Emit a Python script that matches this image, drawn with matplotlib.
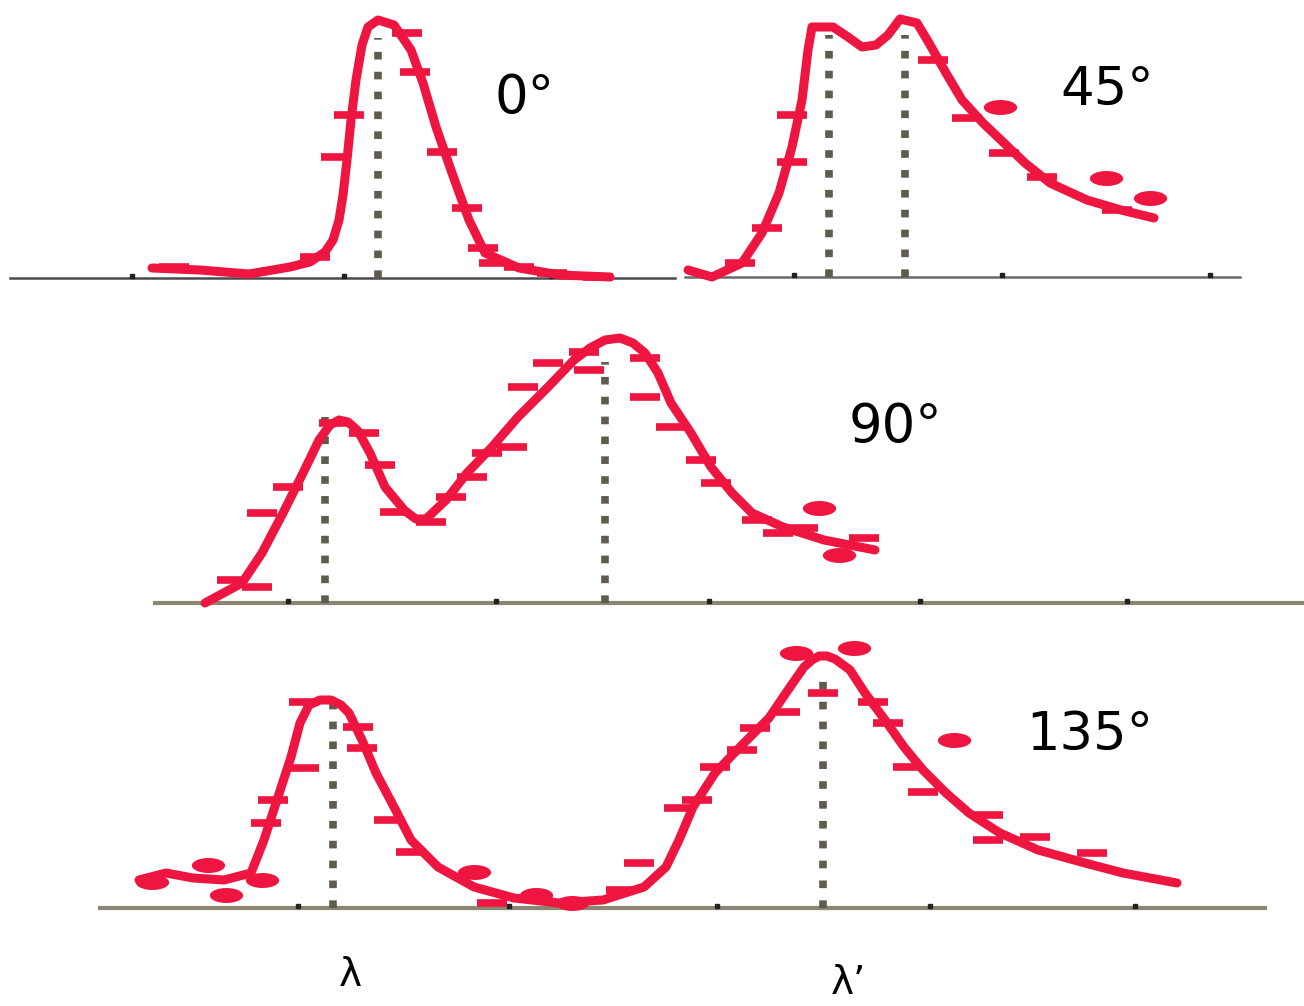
import numpy as np
import matplotlib.pyplot as plt
from matplotlib.path import Path

# Kompton: spectra at four scattering angles (heights are px above each panel baseline)
angles = ['0°', '45°', '90°', '135°']

x0 = [152, 200, 249, 290, 310, 325, 333, 339, 343, 347, 351, 356, 362, 368, 378, 394, 411, 423,
      436, 452, 469, 485, 519, 560, 610]
h0 = [10, 8, 4, 11, 16, 26, 38, 58, 83, 118, 158, 198, 233, 251, 258, 253, 228, 195, 151, 105,
      58, 25, 10, 3, 1]
dx0 = [349, 336, 407, 415, 442, 467, 483, 494, 519, 552, 598, 315, 174]
dh0 = [163, 121, 245, 206, 126, 70, 30, 15, 11, 5, 1, 21, 11]
bx0, bh0 = [], []

x45 = [688, 712, 742, 762, 779, 792, 802, 808, 812, 833, 848, 862, 876, 888, 900, 917, 929, 946,
       962, 983, 1004, 1025, 1050, 1087, 1121, 1154]
h45 = [7, 0, 14, 44, 84, 130, 177, 227, 250, 250, 240, 230, 232, 242, 258, 254, 234, 204, 177,
       154, 134, 114, 94, 77, 67, 59]
dx45 = [792, 792, 767, 740, 933, 967, 1004, 1042, 1117]
dh45 = [162, 115, 49, 14, 217, 159, 124, 100, 67]
bx45 = [1000, 1106, 1150]
bh45 = [170, 99, 79]

x90 = [205, 242, 262, 283, 303, 319, 330, 339, 348, 358, 370, 385, 405, 416, 426, 446, 467, 492,
       518, 548, 574, 590, 605, 620, 633, 645, 658, 671, 691, 711, 732, 752, 783, 824, 875]
h90 = [0, 20, 50, 90, 130, 163, 178, 183, 181, 172, 150, 116, 92, 84, 84, 103, 130, 156, 186,
       216, 243, 255, 263, 265, 260, 250, 230, 200, 170, 136, 110, 90, 76, 63, 53]
dx90 = [262, 288, 232, 257, 334, 364, 380, 395, 431, 451, 472, 487, 512, 523, 548, 584, 589, 645,
        645, 671, 701, 716, 757, 778, 803, 864]
dh90 = [90, 116, 23, 16, 180, 170, 138, 91, 81, 106, 126, 150, 156, 216, 240, 251, 233, 245, 206,
        176, 143, 120, 83, 70, 75, 65]
bx90 = [819, 839]
bh90 = [95, 48]

x135 = [139, 166, 193, 224, 251, 264, 277, 291, 300, 309, 320, 331, 341, 349, 362, 376, 394, 411,
        438, 474, 514, 559, 603, 644, 666, 679, 693, 715, 742, 769, 788, 804, 812, 819, 827, 835,
        850, 865, 885, 904, 923, 946, 969, 1000, 1038, 1085, 1123, 1177]
h135 = [28, 35, 30, 28, 35, 68, 108, 151, 185, 203, 208, 208, 203, 195, 168, 135, 101, 68, 41,
        21, 10, 5, 8, 21, 41, 68, 101, 135, 163, 190, 218, 241, 248, 252, 252, 249, 238, 215, 188,
        161, 138, 115, 95, 75, 58, 45, 35, 25]
dx135 = [266, 273, 304, 304, 358, 362, 389, 411, 492, 639, 621, 679, 697, 715, 742, 755, 785, 823,
         873, 888, 908, 923, 988, 988, 1035, 1092]
dh135 = [85, 108, 140, 206, 181, 160, 88, 56, 5, 45, 18, 100, 108, 141, 158, 180, 196, 215, 206,
         185, 141, 116, 93, 68, 71, 55]
bx135 = [152, 208, 226, 262, 474, 536, 572, 796, 854, 954]
bh135 = [26, 43, 13, 28, 36, 13, 5, 255, 260, 168]

# peak positions (dotted lines) and their heights
peaks_x = [[378], [829, 905], [325, 605], [333, 823]]
peaks_h = [[240], [242, 242], [186, 241], [208, 238]]

# small tick dots on each axis
ticks = [[132, 344, 551], [794, 1002, 1210], [288, 496, 709, 920, 1127], [298, 509, 717, 930, 1135]]

# layout of the panels (pixel rows / columns of the original picture)
base_y = [278, 277, 603, 908]
base_x = [(10, 675), (685, 1240), (155, 1304), (100, 1265)]
base_col = ['#4a4a4a', '#6a6a6a', '#8a8672', '#8a8672']
base_lw = [1.8, 1.8, 3.0, 3.0]
label_xy = [(524, 98), (1107, 90), (895, 427), (1090, 735)]

curves = [(x0, h0), (x45, h45), (x90, h90), (x135, h135)]
dashes = [(dx0, dh0), (dx45, dh45), (dx90, dh90), (dx135, dh135)]
blobs = [(bx0, bh0), (bx45, bh45), (bx90, bh90), (bx135, bh135)]

red = '#ee1640'
t = np.linspace(0, 2 * np.pi, 40)
ellipse = Path(np.column_stack([np.cos(t), 0.45 * np.sin(t)]))

fig = plt.figure(figsize=(13.04, 10.06), dpi=100)
ax = fig.add_axes([0, 0, 1, 1])
ax.set_xlim(0, 1304)
ax.set_ylim(1006, 0)
ax.axis('off')

for i in range(4):
    b = base_y[i]
    ax.plot(base_x[i], [b, b], color=base_col[i], lw=base_lw[i], zorder=1)
    ax.plot(ticks[i], [b - 2] * len(ticks[i]), ls='none', marker='s', ms=3.5, color='#222222', zorder=2)
    for px, ph in zip(peaks_x[i], peaks_h[i]):
        ax.plot([px, px], [b, b - ph], color='#5f5b4d', lw=5.5, ls=(0, (1, 1.6)), zorder=2)
    cx, ch = curves[i]
    ax.plot(cx, b - np.array(ch), color=red, lw=6.5, solid_joinstyle='round',
            solid_capstyle='round', zorder=3)
    dx, dh = dashes[i]
    ax.plot(dx, b - np.array(dh), ls='none', marker='_', ms=22, mew=5.5, color=red, zorder=4)
    ex, eh = blobs[i]
    if ex:
        ax.plot(ex, b - np.array(eh), ls='none', marker=ellipse, ms=24, color=red, mew=0, zorder=4)
    ax.text(label_xy[i][0], label_xy[i][1], angles[i], fontsize=38, ha='center', va='center',
            family='DejaVu Sans', color='black')

ax.text(350, 975, 'λ', fontsize=28, ha='center', va='center')
ax.text(848, 983, 'λ’', fontsize=28, ha='center', va='center')

fig.savefig('out.png', dpi=100)
